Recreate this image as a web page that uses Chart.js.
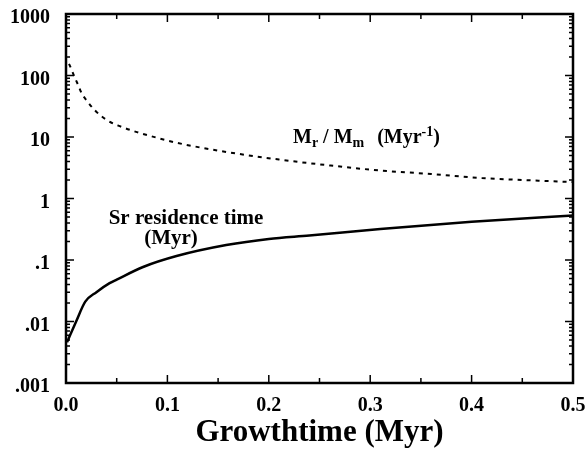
<!DOCTYPE html>
<html lang="en">
<head>
  <meta charset="UTF-8" />
  <title>Growthtime chart</title>
  <script src="https://cdn.jsdelivr.net/npm/chart.js"></script>
  <style>
    body { margin: 0; background: #fff; }
  </style>
</head>
<body>
  <canvas id="chart" width="586" height="456"></canvas>

  <script>
    // M_r / M_m (Myr-1), dashed curve
    const ratioTime   = [0.003, 0.0056, 0.009, 0.012, 0.0155, 0.02, 0.0286, 0.04, 0.053, 0.07, 0.093, 0.11, 0.15, 0.21, 0.26, 0.31, 0.36, 0.41, 0.45, 0.5];
    const ratioValues = [155, 123, 90, 70, 51, 40, 27, 19, 15, 12, 9.4, 8.0, 6.0, 4.3, 3.45, 2.85, 2.5, 2.15, 2.0, 1.85];

    // Sr residence time (Myr), solid curve
    const residenceTime   = [0.001, 0.01, 0.019, 0.03, 0.043, 0.05, 0.076, 0.109, 0.158, 0.2, 0.24, 0.31, 0.4, 0.5];
    const residenceValues = [0.0046, 0.01, 0.021, 0.03, 0.042, 0.048, 0.077, 0.116, 0.175, 0.22, 0.25, 0.32, 0.42, 0.53];

    const yTicks = [0.001, 0.01, 0.1, 1, 10, 100, 1000];
    const yTickLabels = ['.001', '.01', '.1', '1', '10', '100', '1000'];
    const xTicks = [0, 0.1, 0.2, 0.3, 0.4, 0.5];
    const xMinorTicks = [0.05, 0.15, 0.25, 0.35, 0.45];

    const serif = "'Liberation Serif', 'Times New Roman', serif";

    const toPoints = (xs, ys) => xs.map((x, i) => ({ x, y: ys[i] }));

    // frame, inward ticks and the two curve labels
    const framePlugin = {
      id: 'frame',
      afterDatasetsDraw(chart) {
        const { ctx, chartArea: a, scales: { x, y } } = chart;
        ctx.save();
        ctx.strokeStyle = '#000';
        ctx.lineWidth = 2.5;
        ctx.strokeRect(a.left, a.top, a.right - a.left, a.bottom - a.top);

        ctx.lineWidth = 1.5;
        ctx.beginPath();
        const hTick = (v, len) => {
          const px = x.getPixelForValue(v);
          ctx.moveTo(px, a.bottom); ctx.lineTo(px, a.bottom - len);
          ctx.moveTo(px, a.top); ctx.lineTo(px, a.top + len);
        };
        xTicks.forEach(v => hTick(v, 8));
        xMinorTicks.forEach(v => hTick(v, 5));

        const vTick = (v, len) => {
          const py = y.getPixelForValue(v);
          ctx.moveTo(a.left, py); ctx.lineTo(a.left + len, py);
          ctx.moveTo(a.right, py); ctx.lineTo(a.right - len, py);
        };
        yTicks.forEach(v => {
          vTick(v, 8);
          if (v < 1000) for (let k = 2; k <= 9; k++) vTick(v * k, 4);
        });
        ctx.stroke();

        // labels
        ctx.fillStyle = '#000';
        ctx.textBaseline = 'alphabetic';
        ctx.textAlign = 'left';
        let cx = 293, base = 143;
        const put = (txt, size, dy) => {
          ctx.font = `bold ${size}px ${serif}`;
          ctx.fillText(txt, cx, base + dy);
          cx += ctx.measureText(txt).width;
        };
        put('M', 20, 0); put('r', 14, 4); put(' / ', 20, 0);
        put('M', 20, 0); put('m', 14, 4); cx += 3; put('  (Myr', 20, 0);
        put('-1', 14, -7); put(')', 20, 0);

        ctx.font = `bold 21px ${serif}`;
        ctx.textAlign = 'center';
        ctx.fillText('Sr residence time', 186, 224);
        ctx.fillText('(Myr)', 171, 244);
        ctx.restore();
      }
    };

    new Chart(document.getElementById('chart'), {
      type: 'line',
      data: {
        datasets: [
          {
            label: 'Mr / Mm',
            data: toPoints(ratioTime, ratioValues),
            borderColor: '#000',
            borderWidth: 2,
            borderDash: [4, 5],
            pointRadius: 0,
            cubicInterpolationMode: 'monotone'
          },
          {
            label: 'Sr residence time',
            data: toPoints(residenceTime, residenceValues),
            borderColor: '#000',
            borderWidth: 2.5,
            pointRadius: 0,
            cubicInterpolationMode: 'monotone'
          }
        ]
      },
      options: {
        responsive: false,
        animation: false,
        layout: { padding: { top: 14, right: 13, left: 0, bottom: 0 } },
        plugins: { legend: { display: false }, tooltip: { enabled: false } },
        scales: {
          x: {
            type: 'linear',
            min: 0,
            max: 0.5,
            afterBuildTicks: s => { s.ticks = xTicks.map(v => ({ value: v })); },
            afterFit: s => { s.height = 73; s.paddingLeft = 0; s.paddingRight = 0; },
            grid: { display: false },
            border: { display: false },
            ticks: {
              color: '#000',
              padding: 3,
              maxRotation: 0,
              font: { family: serif, size: 20, weight: 'bold' },
              callback: v => v.toFixed(1)
            },
            title: {
              display: true,
              text: 'Growthtime (Myr)',
              color: '#000',
              font: { family: serif, size: 31, weight: 'bold' },
              padding: { top: 0, bottom: 4 }
            }
          },
          y: {
            type: 'logarithmic',
            min: 0.001,
            max: 1000,
            afterBuildTicks: s => { s.ticks = yTicks.map(v => ({ value: v })); },
            afterFit: s => { s.width = 66; s.paddingTop = 0; s.paddingBottom = 0; },
            grid: { display: false },
            border: { display: false },
            ticks: {
              color: '#000',
              padding: 8,
              labelOffset: 4,
              font: { family: serif, size: 20, weight: 'bold' },
              callback: (v) => {
                const i = yTicks.findIndex(t => Math.abs(Math.log10(t) - Math.log10(v)) < 1e-6);
                return i >= 0 ? yTickLabels[i] : '';
              }
            }
          }
        }
      },
      plugins: [framePlugin]
    });
  </script>
</body>
</html>
